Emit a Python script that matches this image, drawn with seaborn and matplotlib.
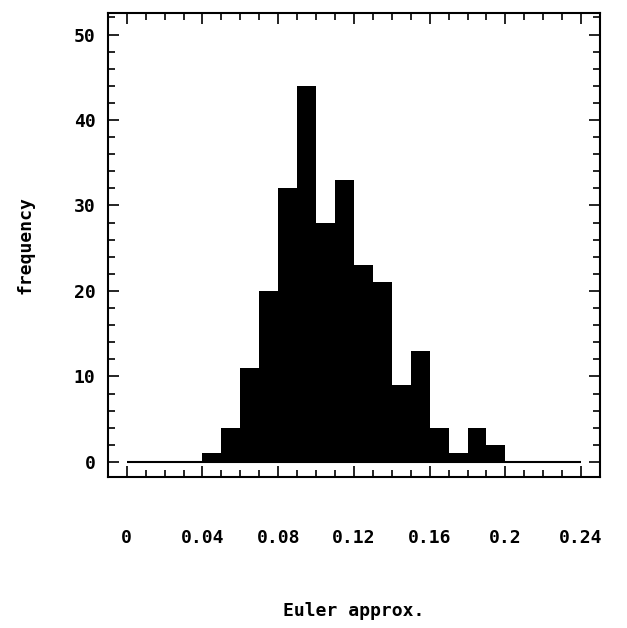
import matplotlib
matplotlib.use("Agg")
import matplotlib.pyplot as plt
import seaborn as sns
from matplotlib.ticker import MultipleLocator

# histogram: bins of width 0.01, 250 values in all
bin_edges = [0.04, 0.05, 0.06, 0.07, 0.08, 0.09, 0.10, 0.11, 0.12,
             0.13, 0.14, 0.15, 0.16, 0.17, 0.18, 0.19, 0.20]
counts = [1, 4, 11, 20, 32, 44, 28, 33, 23, 21, 9, 13, 4, 1, 4, 2]

x_ticks = [0, 0.04, 0.08, 0.12, 0.16, 0.2, 0.24]
x_labels = ["0", "0.04", "0.08", "0.12", "0.16", "0.2", "0.24"]
y_ticks = [0, 10, 20, 30, 40, 50]

sns.set_style("ticks")
plt.rcParams['font.family'] = ['DejaVu Sans Mono']
plt.rcParams['font.weight'] = 'bold'

fig = plt.figure(figsize=(6.27, 6.28), dpi=100)
ax = fig.add_axes([0.172, 0.24, 0.785, 0.739])

centers = [(a + b) / 2 for a, b in zip(bin_edges[:-1], bin_edges[1:])]
sns.histplot(x=centers, weights=counts, bins=bin_edges, color="black",
             alpha=1, edgecolor="black", linewidth=0, ax=ax)

# baseline drawn across the range, like the original
ax.hlines(0, x_ticks[0], x_ticks[-1], color="black", linewidth=1.5)

ax.set_xlim(-0.01, 0.25)
ax.set_ylim(-1.8, 52.5)
ax.set_xticks(x_ticks)
ax.set_xticklabels(x_labels)
ax.set_yticks(y_ticks)
ax.xaxis.set_minor_locator(MultipleLocator(0.01))
ax.yaxis.set_minor_locator(MultipleLocator(2))

ax.tick_params(which="both", direction="in", top=True, right=True,
               width=1.2, labelsize=13, colors="black")
ax.tick_params(which="major", length=8)
ax.tick_params(which="minor", length=5)
ax.tick_params(axis="x", pad=37)
ax.tick_params(axis="y", pad=9)

for s in ax.spines.values():
    s.set_linewidth(1.5)
    s.set_color("black")

ax.set_xlabel("Euler approx.", fontsize=13, fontweight="bold",
              color="black", labelpad=40)
ax.set_ylabel("frequency", fontsize=13, fontweight="bold",
              color="black", labelpad=28)

fig.savefig("out.png", dpi=100, facecolor="white")
